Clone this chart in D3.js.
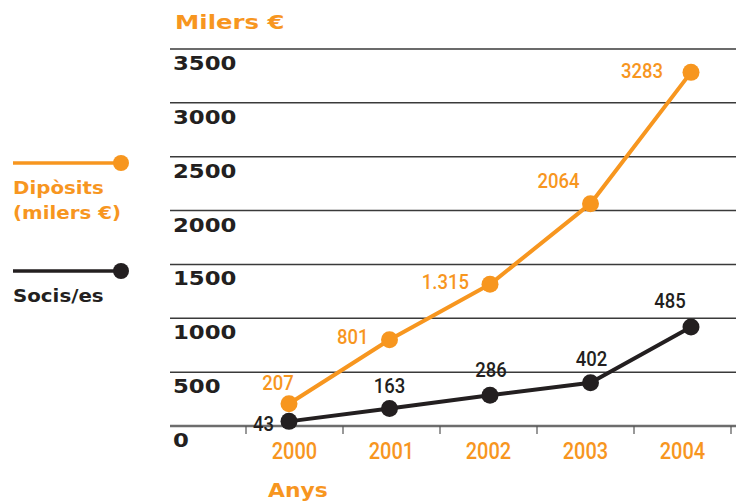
<!DOCTYPE html>
<html>
<head>
<meta charset="utf-8">
<script src="https://cdn.jsdelivr.net/npm/d3@7"></script>
<style>
  body { margin: 0; background: #fff; }
  svg { display: block; }
</style>
</head>
<body>
<div id="chart"></div>
<script>
// data
const years = ["2000", "2001", "2002", "2003", "2004"];
const diposits = [207, 801, 1315, 2064, 3283];
const dipositsLabels = ["207", "801", "1.315", "2064", "3283"];
// the 2004 point sits near 920 on the axis although it is labelled 485
const socis = [43, 163, 286, 402, 920];
const socisLabels = ["43", "163", "286", "402", "485"];
const yTicks = [0, 500, 1000, 1500, 2000, 2500, 3000, 3500];

const orange = "#f7961f";
const dark = "#231f20";

const width = 738;
const height = 504;

const svg = d3
  .select("#chart")
  .append("svg")
  .attr("width", width)
  .attr("height", height);

const y = d3.scaleLinear().domain([0, 3500]).range([426, 49]);
const xBand = d3.scaleBand().domain(years).range([246, 731]);
const x = d3.scalePoint().domain(years).range([289, 691]);

const wide = "'DejaVu Sans', sans-serif";
const narrow = "Roboto, 'Liberation Sans', sans-serif";

// squeeze or stretch a text horizontally (the original uses extended / condensed faces)
const stretch = (sel, factor) => {
  sel.each(function () {
    const w = this.getComputedTextLength();
    d3.select(this)
      .attr("textLength", w * factor)
      .attr("lengthAdjust", "spacingAndGlyphs");
  });
};

// gridlines + y labels
const grid = svg.append("g").attr("class", "grid");
grid
  .selectAll("line")
  .data(yTicks.filter((d) => d > 0))
  .enter()
  .append("line")
  .attr("x1", 170)
  .attr("x2", 736)
  .attr("y1", (d) => y(d))
  .attr("y2", (d) => y(d))
  .attr("stroke", "#3a3a3a")
  .attr("stroke-width", 1.5);

grid
  .selectAll("text")
  .data(yTicks)
  .enter()
  .append("text")
  .attr("x", 173)
  .attr("y", (d) => y(d) + 21)
  .attr("font-family", wide)
  .attr("font-weight", "bold")
  .attr("font-size", 20)
  .attr("fill", dark)
  .text((d) => d)
  .call(stretch, 1.14);

// x axis
svg
  .append("line")
  .attr("x1", 170)
  .attr("x2", 736)
  .attr("y1", y(0))
  .attr("y2", y(0))
  .attr("stroke", "#6d6d6d")
  .attr("stroke-width", 2.5);

const tickXs = years.map((d) => xBand(d)).concat([xBand.range()[1]]);
svg
  .append("g")
  .selectAll("line")
  .data(tickXs)
  .enter()
  .append("line")
  .attr("x1", (d) => d)
  .attr("x2", (d) => d)
  .attr("y1", y(0))
  .attr("y2", y(0) + 8)
  .attr("stroke", "#555")
  .attr("stroke-width", 1.2);

svg
  .append("g")
  .selectAll("text")
  .data(years)
  .enter()
  .append("text")
  .attr("x", (d) => xBand(d) + xBand.bandwidth() / 2)
  .attr("y", 459)
  .attr("text-anchor", "middle")
  .attr("font-family", narrow)
  .attr("font-weight", 500)
  .attr("font-size", 23)
  .attr("fill", orange)
  .text((d) => d)
  .call(stretch, 0.87);

// titles
svg
  .append("text")
  .attr("x", 175)
  .attr("y", 29)
  .attr("font-family", wide)
  .attr("font-weight", "bold")
  .attr("font-size", 20)
  .attr("fill", orange)
  .text("Milers €")
  .call(stretch, 1.22);

svg
  .append("text")
  .attr("x", 268)
  .attr("y", 497)
  .attr("font-family", wide)
  .attr("font-weight", "bold")
  .attr("font-size", 19)
  .attr("fill", orange)
  .text("Anys")
  .call(stretch, 1.15);

// series
const line = d3
  .line()
  .x((d, i) => x(years[i]))
  .y((d) => y(d));

const drawSeries = (values, labels, color, offsets) => {
  const g = svg.append("g");
  g.append("path")
    .datum(values)
    .attr("d", line)
    .attr("fill", "none")
    .attr("stroke", color)
    .attr("stroke-width", 4)
    .attr("stroke-linejoin", "round");

  g.selectAll("circle")
    .data(values)
    .enter()
    .append("circle")
    .attr("cx", (d, i) => x(years[i]))
    .attr("cy", (d) => y(d))
    .attr("r", 8.5)
    .attr("fill", color);

  g.selectAll("text")
    .data(values)
    .enter()
    .append("text")
    .attr("x", (d, i) => x(years[i]) + offsets[i][0])
    .attr("y", (d, i) => y(d) + offsets[i][1])
    .attr("text-anchor", (d, i) => offsets[i][2])
    .attr("font-family", narrow)
    .attr("font-weight", 500)
    .attr("font-size", 21)
    .attr("fill", color)
    .text((d, i) => labels[i])
    .call(stretch, 0.88);
};

drawSeries(diposits, dipositsLabels, orange, [
  [-11, -14, "middle"],
  [-21, 4, "end"],
  [-21, 5, "end"],
  [-11, -16, "end"],
  [-28, 6, "end"],
]);

drawSeries(socis, socisLabels, dark, [
  [-15, 10, "end"],
  [0, -15, "middle"],
  [1, -18, "middle"],
  [1, -17, "middle"],
  [-21, -19, "middle"],
]);

// legend
const legend = [
  { color: orange, y: 163, lines: ["Dipòsits", "(milers €)"] },
  { color: dark, y: 271, lines: ["Socis/es"] },
];

const lg = svg
  .append("g")
  .selectAll("g")
  .data(legend)
  .enter()
  .append("g");

lg.append("line")
  .attr("x1", 13)
  .attr("x2", 121)
  .attr("y1", (d) => d.y)
  .attr("y2", (d) => d.y)
  .attr("stroke", (d) => d.color)
  .attr("stroke-width", 3.5);

lg.append("circle")
  .attr("cx", 121)
  .attr("cy", (d) => d.y)
  .attr("r", 8)
  .attr("fill", (d) => d.color);

lg.each(function (d) {
  d3.select(this)
    .selectAll("text")
    .data(d.lines)
    .enter()
    .append("text")
    .attr("x", 13)
    .attr("y", (t, i) => d.y + 31 + i * 25)
    .attr("font-family", wide)
    .attr("font-weight", "bold")
    .attr("font-size", 18)
    .attr("fill", d.color)
    .text((t) => t)
    .call(stretch, 1.1);
});
</script>
</body>
</html>
